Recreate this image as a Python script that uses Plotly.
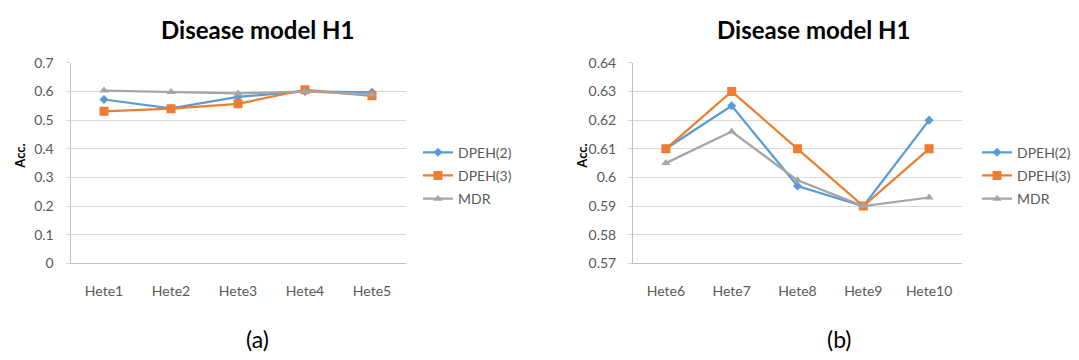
import plotly.graph_objects as go

# ---- data ----
cats_a = ["Hete1", "Hete2", "Hete3", "Hete4", "Hete5"]
dpeh2_a = [0.572, 0.541, 0.581, 0.600, 0.597]
dpeh3_a = [0.531, 0.540, 0.557, 0.606, 0.585]
mdr_a = [0.603, 0.598, 0.593, 0.600, 0.589]

cats_b = ["Hete6", "Hete7", "Hete8", "Hete9", "Hete10"]
dpeh2_b = [0.610, 0.625, 0.597, 0.590, 0.620]
dpeh3_b = [0.610, 0.630, 0.610, 0.590, 0.610]
mdr_b = [0.605, 0.616, 0.599, 0.590, 0.593]

yticks_a = [0, 0.1, 0.2, 0.3, 0.4, 0.5, 0.6, 0.7]
yticklabels_a = ["0", "0.1", "0.2", "0.3", "0.4", "0.5", "0.6", "0.7"]
yticks_b = [0.57, 0.58, 0.59, 0.60, 0.61, 0.62, 0.63, 0.64]
yticklabels_b = ["0.57", "0.58", "0.59", "0.6", "0.61", "0.62", "0.63", "0.64"]

series_names = ["DPEH(2)", "DPEH(3)", "MDR"]
colors = ["#5B9BD5", "#ED7D31", "#A5A5A5"]
symbols = ["diamond", "square", "triangle-up"]
msizes = [7, 9, 8]

W, H = 1079, 360
FONT = "Lato, Carlito, Calibri, sans-serif"

fig = go.Figure()

for panel, (cats, vals, xa, ya, lg) in enumerate([
    (cats_a, [dpeh2_a, dpeh3_a, mdr_a], "x", "y", "legend"),
    (cats_b, [dpeh2_b, dpeh3_b, mdr_b], "x2", "y2", "legend2"),
]):
    for i, name in enumerate(series_names):
        fig.add_trace(go.Scatter(
            x=cats, y=vals[i], name=name, mode="lines+markers",
            line=dict(color=colors[i], width=2.25),
            marker=dict(symbol=symbols[i], size=msizes[i], color=colors[i]),
            xaxis=xa, yaxis=ya, legend=lg,
            legendgroup=f"{panel}-{i}",
        ))

ydom = [(360 - 267) / H, (360 - 56.5) / H]
axis_common = dict(
    showgrid=False, showline=True, linecolor="#BFBFBF", linewidth=1,
    tickfont=dict(family=FONT, size=14, color="#595959"),
    zeroline=False, ticks="",
)
yaxis_common = dict(
    showgrid=True, gridcolor="#D9D9D9", gridwidth=1,
    showline=True, linecolor="#BFBFBF", linewidth=1,
    tickfont=dict(family=FONT, size=14, color="#595959"),
    zeroline=False, ticks="outside", ticklen=4, tickcolor="#D9D9D9",
)

fig.update_layout(
    width=W, height=H,
    margin=dict(l=0, r=0, t=0, b=0),
    paper_bgcolor="white", plot_bgcolor="white",
    showlegend=True,
    xaxis=dict(domain=[70.5 / W, 405.5 / W], anchor="y", type="category",
               range=[-0.5, 4.5], ticklabelstandoff=15, **axis_common),
    yaxis=dict(domain=ydom, anchor="x", range=[0, 0.7],
               tickvals=yticks_a, ticktext=yticklabels_a, ticklabelstandoff=9,
               **yaxis_common),
    xaxis2=dict(domain=[633 / W, 962 / W], anchor="y2", type="category",
                range=[-0.5, 4.5], ticklabelstandoff=15, **axis_common),
    yaxis2=dict(domain=ydom, anchor="x2", range=[0.57, 0.64],
                tickvals=yticks_b, ticktext=yticklabels_b, ticklabelstandoff=9,
                **yaxis_common),
    legend=dict(x=418 / W, y=(360 - 134) / H, xanchor="left", yanchor="top",
                font=dict(family=FONT, size=14, color="#595959"),
                tracegroupgap=2, bgcolor="rgba(0,0,0,0)"),
    legend2=dict(x=977 / W, y=(360 - 134) / H, xanchor="left", yanchor="top",
                 font=dict(family=FONT, size=14, color="#595959"),
                 tracegroupgap=2, bgcolor="rgba(0,0,0,0)"),
)

annotations = [
    dict(text="<b>Disease model H1</b>", x=257 / W, y=(360 - 22) / H,
         font=dict(family=FONT, size=24, color="#000000")),
    dict(text="<b>Disease model H1</b>", x=813 / W, y=(360 - 22) / H,
         font=dict(family=FONT, size=24, color="#000000")),
    dict(text="<b>Acc.</b>", x=20 / W, y=(360 - 155) / H, textangle=-90,
         font=dict(family=FONT, size=13, color="#000000")),
    dict(text="<b>Acc.</b>", x=582 / W, y=(360 - 155) / H, textangle=-90,
         font=dict(family=FONT, size=13, color="#000000")),
    dict(text="(a)", x=257 / W, y=(360 - 346) / H,
         font=dict(family=FONT, size=23, color="#000000")),
    dict(text="(b)", x=839 / W, y=(360 - 346) / H,
         font=dict(family=FONT, size=23, color="#000000")),
]
for a in annotations:
    a.update(xref="paper", yref="paper", showarrow=False,
             xanchor="center", yanchor="middle")
fig.update_layout(annotations=annotations)

fig.write_html("out.html", config={"displayModeBar": False},
               post_script="document.body.style.margin='0';")
